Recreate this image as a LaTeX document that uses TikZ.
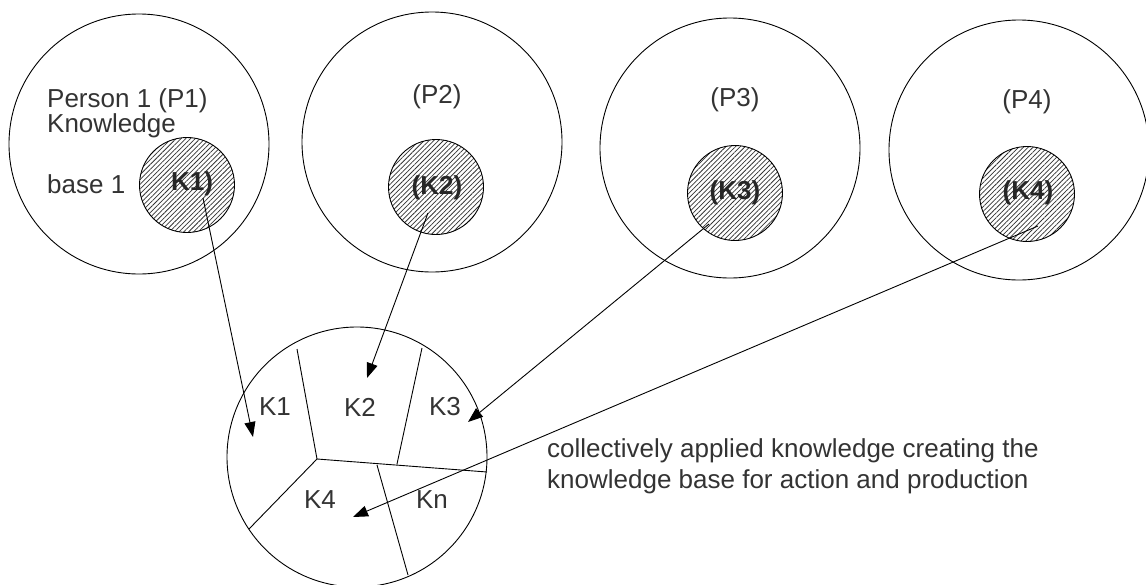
\documentclass[tikz,border=0pt]{standalone}
\usepackage{fontspec}
\setmainfont{Liberation Sans}
\usetikzlibrary{arrows.meta, patterns.meta}
\tikzset{
    x=1pt, y=-1pt, % one unit per pixel, y running downwards
    person/.style={draw, circle, inner sep=0pt, minimum size=260pt, line width=0.9pt}, % large circle of a person
    kcore/.style={draw, circle, inner sep=0pt, minimum size=95pt, line width=0.9pt,
        pattern={Lines[angle=45, distance=3.4pt, line width=0.75pt]}, pattern color=black!80}, % hatched knowledge circle
    txt/.style={font=\fontsize{26}{25}\selectfont, text=black!80, inner sep=0pt},
    ktxt/.style={font=\bfseries\fontsize{26}{30}\selectfont, text=black!85, inner sep=0pt},
    link/.style={-{Triangle[length=15pt,width=11pt]}, line width=0.9pt}, % arrows into the common base
}
\begin{document}
\begin{tikzpicture}
    \useasboundingbox (0,0) rectangle (1146,584);
    % persons
    \node[person] (p1) at (139,144) {};
    \node[person] (p2) at (432,142) {};
    \node[person] (p3) at (730,148) {};
    \node[person] (p4) at (1019,150) {};
    \node[kcore] (k1) at (187,185) {};
    \node[kcore] (k2) at (436,187) {};
    \node[kcore] (k3) at (735,193) {};
    \node[kcore] (k4) at (1027,194) {};
    \node[txt, anchor=base west, align=left] (p1txt) at (47,132) {Person 1 (P1)\\Knowledge};
    \node[txt, anchor=base west] (p1base) at (47,193) {base 1};
    \node[txt] (p2txt) at (437,97) {(P2)};
    \node[txt] (p3txt) at (735,100) {(P3)};
    \node[txt] (p4txt) at (1027,102) {(P4)};
    \node[ktxt] (k1txt) at (192,184) {K1)};
    \node[ktxt] (k2txt) at (437,188) {(K2)};
    \node[ktxt] (k3txt) at (735,193) {(K3)};
    \node[ktxt] (k4txt) at (1028,193) {(K4)};
    % common knowledge base
    \node[person] (kb) at (357,457) {};
    \coordinate (j) at (317,459);
    \coordinate (a) at (297,349);
    \coordinate (b) at (249,529);
    \coordinate (c) at (487,472);
    \coordinate (d1) at (422,348);
    \coordinate (d2) at (397,464);
    \coordinate (e1) at (377,465);
    \coordinate (e2) at (408,575);
    \draw[line width=0.9pt] (a) -- (j) -- (c) (j) -- (b) (d1) -- (d2) (e1) -- (e2);
    \node[txt] (kb1) at (275,407) {K1};
    \node[txt] (kb2) at (360,407) {K2};
    \node[txt] (kb3) at (445,407) {K3};
    \node[txt] (kb4) at (320,500) {K4};
    \node[txt] (kbn) at (432,500) {Kn};
    \node[txt, anchor=base west, align=left, font=\fontsize{26}{31}\selectfont] (note) at (547,488)
        {collectively applied knowledge creating the\\knowledge base for action and production};
    % arrows
    \coordinate (s1) at (203,198);
    \coordinate (s2) at (428,213);
    \coordinate (s3) at (709,224);
    \coordinate (s4) at (1038,226);
    \coordinate (t1) at (253,437);
    \coordinate (t2) at (367,378);
    \coordinate (t3) at (468,422);
    \coordinate (t4) at (353,517);
    \draw[link] (s1) -- (t1);
    \draw[link] (s2) -- (t2);
    \draw[link] (s3) -- (t3);
    \draw[link] (s4) -- (t4);
\end{tikzpicture}
\end{document}
